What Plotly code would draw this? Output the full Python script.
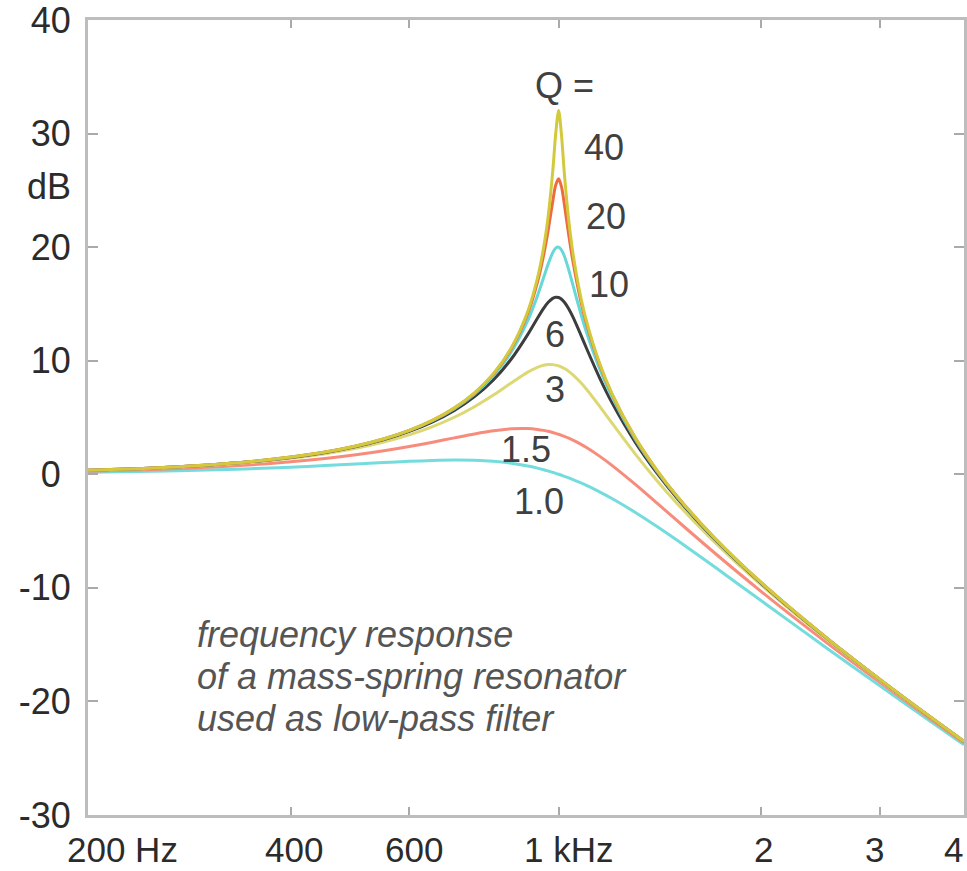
import math
import plotly.graph_objects as go

# Frequencies (Hz) at which the response curves are tabulated
FREQ = [200, 250, 300, 350, 400, 450, 500, 550, 600, 650, 700, 750, 800, 850,
        900, 930, 950, 965, 980, 990, 1000, 1010, 1020, 1035, 1050, 1075, 1100,
        1150, 1200, 1300, 1400, 1500, 1700, 2000, 2500, 3000, 3500, 4000]

# Gain in dB for each quality factor Q
DB_Q1_0 = [0.170, 0.262, 0.371, 0.494, 0.627, 0.765, 0.902, 1.029, 1.137, 1.215,
           1.249, 1.227, 1.137, 0.972, 0.726, 0.540, 0.400, 0.287, 0.168, 0.086,
           0.0, -0.088, -0.179, -0.319, -0.465, -0.718, -0.983, -1.543, -2.131,
           -3.357, -4.596, -5.812, -8.104, -11.139, -15.291, -18.633, -21.424, -23.820]
DB_Q1_5 = [0.272, 0.425, 0.614, 0.838, 1.097, 1.391, 1.716, 2.069, 2.444, 2.829,
           3.207, 3.552, 3.830, 4.000, 4.022, 3.951, 3.866, 3.782, 3.681, 3.605,
           3.522, 3.432, 3.335, 3.177, 3.006, 2.694, 2.352, 1.600, 0.790, -0.889,
           -2.535, -4.087, -6.863, -10.325, -14.820, -18.325, -21.206, -23.657]
DB_Q3 = [0.334, 0.526, 0.767, 1.059, 1.406, 1.814, 2.289, 2.839, 3.472, 4.197,
         5.023, 5.953, 6.974, 8.033, 8.993, 9.418, 9.595, 9.658, 9.655, 9.614,
         9.542, 9.441, 9.310, 9.062, 8.761, 8.164, 7.483, 6.004, 4.515, 1.779,
         -0.567, -2.583, -5.903, -9.752, -14.511, -18.129, -21.070, -23.556]
DB_Q6 = [0.349, 0.552, 0.806, 1.116, 1.487, 1.927, 2.445, 3.055, 3.772, 4.619,
         5.627, 6.840, 8.316, 10.129, 12.321, 13.739, 14.612, 15.143, 15.490, 15.588,
         15.563, 15.415, 15.152, 14.581, 13.858, 12.493, 11.095, 8.516, 6.315, 2.815,
         0.105, -2.109, -5.626, -9.596, -14.430, -18.079, -21.035, -23.530]
DB_Q10 = [0.353, 0.557, 0.814, 1.128, 1.505, 1.952, 2.480, 3.102, 3.838, 4.714,
          5.768, 7.055, 8.665, 10.745, 13.546, 15.702, 17.321, 18.526, 19.519, 19.915,
          20.000, 19.745, 19.195, 18.018, 16.669, 14.464, 12.503, 9.309, 6.819, 3.072,
          0.263, -2.000, -5.564, -9.562, -14.413, -18.068, -21.027, -23.525]
DB_Q20 = [0.354, 0.560, 0.818, 1.133, 1.512, 1.962, 2.494, 3.122, 3.867, 4.755,
          5.828, 7.149, 8.821, 11.034, 14.188, 16.901, 19.295, 21.513, 24.013, 25.458,
          26.021, 25.296, 23.734, 21.106, 18.774, 15.669, 13.267, 9.693, 7.051, 3.185,
          0.332, -1.954, -5.538, -9.547, -14.406, -18.063, -21.024, -23.523]
DB_Q40 = [0.354, 0.560, 0.819, 1.135, 1.514, 1.964, 2.498, 3.127, 3.874, 4.765,
          5.843, 7.172, 8.861, 11.109, 14.364, 17.260, 19.970, 22.747, 26.639, 29.961,
          32.041, 29.821, 26.417, 22.409, 19.510, 16.031, 13.482, 9.795, 7.111, 3.213,
          0.349, -1.942, -5.531, -9.544, -14.404, -18.062, -21.023, -23.522]

Q_NAMES = ["1.0", "1.5", "3", "6", "10", "20", "40"]
Q_SERIES = [DB_Q1_0, DB_Q1_5, DB_Q3, DB_Q6, DB_Q10, DB_Q20, DB_Q40]
Q_COLORS = ["#74dcdc", "#f88c7c", "#dcd874", "#3d3d3d", "#66d8d8", "#f06a40", "#d2ca3c"]

# Curve labels: (text, frequency, dB)
Q_LABELS = [("Q =", 1020, 34.2), ("40", 1166, 28.8), ("20", 1175, 22.7),
            ("10", 1187, 16.7), ("6", 986, 12.3), ("3", 986, 7.5),
            ("1.5", 894, 2.2), ("1.0", 935, -2.4)]

# Axis ticks
X_TICKS = [200, 400, 600, 1000, 2000, 3000, 4000]
X_TICK_TEXT = ["200 Hz", "400", "600", "1 kHz", "2", "3", "4"]
X_TICK_SHIFT = [34, 3, 5, 10, 2, -5, -11]
Y_TICKS = [-30, -20, -10, 0, 10, 20, 30, 40]
Y_TICK_TEXT = ["-30", "-20", "-10", "0\u00a0", "10", "20", "30", "40"]

NOTE_LINES = ["frequency response", "of a mass-spring resonator", "used as low-pass filter"]
NOTE_Y = [-14.1, -17.8, -21.5]

FONT = "Liberation Sans, Arial, sans-serif"
FS = 36

fig = go.Figure()
for name, vals, col in zip(Q_NAMES, Q_SERIES, Q_COLORS):
    fig.add_trace(go.Scatter(
        x=FREQ, y=vals, mode="lines", name="Q = " + name,
        line=dict(color=col, width=3, shape="spline", smoothing=0.8),
        showlegend=False,
    ))

annotations = []
for f, txt, dx in zip(X_TICKS, X_TICK_TEXT, X_TICK_SHIFT):
    annotations.append(dict(
        x=math.log10(f), xref="x", y=0, yref="paper", text=txt,
        showarrow=False, xanchor="center", yanchor="middle", borderpad=0,
        xshift=dx, yshift=-34, font=dict(family=FONT, size=35, color="#2b2b2b"),
    ))

for txt, f, db in Q_LABELS:
    annotations.append(dict(
        x=math.log10(f), y=db, xref="x", yref="y", text=txt, showarrow=False,
        xanchor="center", yanchor="middle",
        font=dict(family=FONT, size=FS, color="#404040"),
    ))

for txt, yv in zip(NOTE_LINES, NOTE_Y):
    annotations.append(dict(
        x=math.log10(288), y=yv, xref="x", yref="y", text="<i>" + txt + "</i>",
        showarrow=False, xanchor="left", yanchor="middle",
        font=dict(family=FONT, size=FS, color="#555555"),
    ))

annotations.append(dict(
    x=0, xref="paper", y=25.3, yref="y", text="dB", showarrow=False,
    xanchor="right", yanchor="middle", xshift=-15,
    font=dict(family=FONT, size=FS, color="#2b2b2b"),
))

axis_common = dict(
    showline=True, linecolor="#bdbdbd", linewidth=3, mirror="ticks",
    ticks="inside", tickcolor="#aaaaaa", tickwidth=2,
    showgrid=False, zeroline=False,
)

fig.update_layout(
    width=967, height=871,
    margin=dict(l=88, r=0, t=17, b=56),
    paper_bgcolor="white", plot_bgcolor="white",
    xaxis=dict(type="log", range=[math.log10(200), math.log10(4000)],
               tickvals=X_TICKS, showticklabels=False, ticklen=8, **axis_common),
    yaxis=dict(range=[-30, 40], tickvals=Y_TICKS, ticktext=Y_TICK_TEXT, ticklen=10,
               ticklabelstandoff=7, ticklabeloverflow="allow",
               tickfont=dict(family=FONT, size=FS, color="#2b2b2b"), **axis_common),
    annotations=annotations,
)

fig.write_html("out.html")
